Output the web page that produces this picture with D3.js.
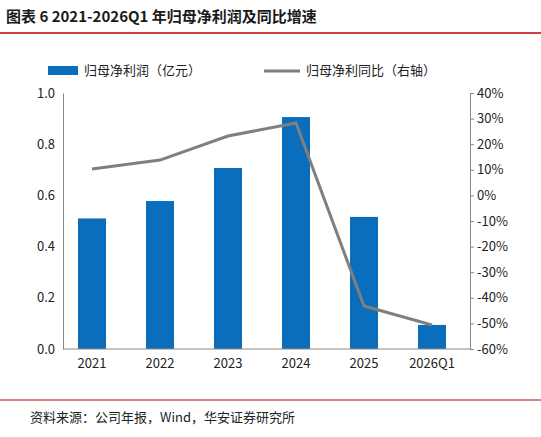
<!DOCTYPE html>
<html><head><meta charset="utf-8">
<script src="https://cdn.jsdelivr.net/npm/d3@7"></script>
<style>body{margin:0;background:#fff;font-family:"Noto Sans CJK SC","DejaVu Sans",sans-serif}</style>
</head><body><svg id="c" width="541" height="437"></svg>
<script>
const categories=["2021","2022","2023","2024","2025","2026Q1"];
const profit=[0.51,0.578,0.707,0.906,0.516,0.094];
const yoy=[10.3,13.8,23.2,28.3,-43.2,-50.6];
const leftTicks=[0,0.2,0.4,0.6,0.8,1.0];
const rightTicks=[-60,-50,-40,-30,-20,-10,0,10,20,30,40];
const svg=d3.select("#c");
const L=63,R=470,T=93,B=349;
svg.append("text").attr("x",6).attr("y",22).attr("font-size",15).attr("font-weight","bold").attr("fill","#1a1a1a").text("图表 6 2021-2026Q1 年归母净利润及同比增速");
svg.append("line").attr("x1",0).attr("x2",541).attr("y1",33).attr("y2",33).attr("stroke","#c00000").attr("stroke-width",1.5);
const x=d3.scaleBand().domain(categories).range([58,466]);
const yl=d3.scaleLinear().domain([0,1]).range([B,T]);
const yr=d3.scaleLinear().domain([-60,40]).range([B,T]);
const g=svg.append("g");
g.selectAll("rect").data(profit).join("rect").attr("x",(d,i)=>x(categories[i])+x.bandwidth()/2-14).attr("width",28)
 .attr("y",d=>yl(d)).attr("height",d=>B-yl(d)).attr("fill","#0a6ebd");
const line=d3.line().x((d,i)=>x(categories[i])+x.bandwidth()/2).y(d=>yr(d));
g.append("path").datum(yoy).attr("d",line).attr("fill","none").attr("stroke","#7f7f7f").attr("stroke-width",3);
const ax=svg.append("g").attr("transform",`translate(0,${B})`).call(d3.axisBottom(x).tickSize(0).tickPadding(10));
ax.select(".domain").attr("d",`M${L},0H${R}`).attr("stroke","#888");
const al=svg.append("g").attr("transform",`translate(${L},0)`).call(d3.axisLeft(yl).tickValues(leftTicks).tickFormat(d3.format(".1f")).tickSize(0).tickPadding(8));
al.select(".domain").attr("stroke","#888");
const ar=svg.append("g").attr("transform",`translate(${R},0)`).call(d3.axisRight(yr).tickValues(rightTicks).tickFormat(d=>d+"%").tickSize(4).tickPadding(3));
ar.select(".domain").attr("stroke","#888");ar.selectAll(".tick line").attr("stroke","#888");
svg.selectAll(".tick text").attr("font-size",13).attr("fill","#222").attr("font-family","Noto Sans CJK SC, DejaVu Sans");
svg.append("rect").attr("x",48).attr("y",66).attr("width",30).attr("height",9).attr("fill","#0a6ebd");
svg.append("text").attr("x",84).attr("y",75).attr("font-size",13).attr("fill","#222").text("归母净利润（亿元）");
svg.append("line").attr("x1",264).attr("x2",300).attr("y1",71).attr("y2",71).attr("stroke","#7f7f7f").attr("stroke-width",3);
svg.append("text").attr("x",306).attr("y",75).attr("font-size",13).attr("fill","#222").text("归母净利同比（右轴）");
svg.append("line").attr("x1",0).attr("x2",541).attr("y1",400).attr("y2",400).attr("stroke","#c00000").attr("stroke-width",1);
svg.append("text").attr("x",30).attr("y",422).attr("font-size",13).attr("fill","#222").text("资料来源：公司年报，Wind，华安证券研究所");
</script></body></html>
